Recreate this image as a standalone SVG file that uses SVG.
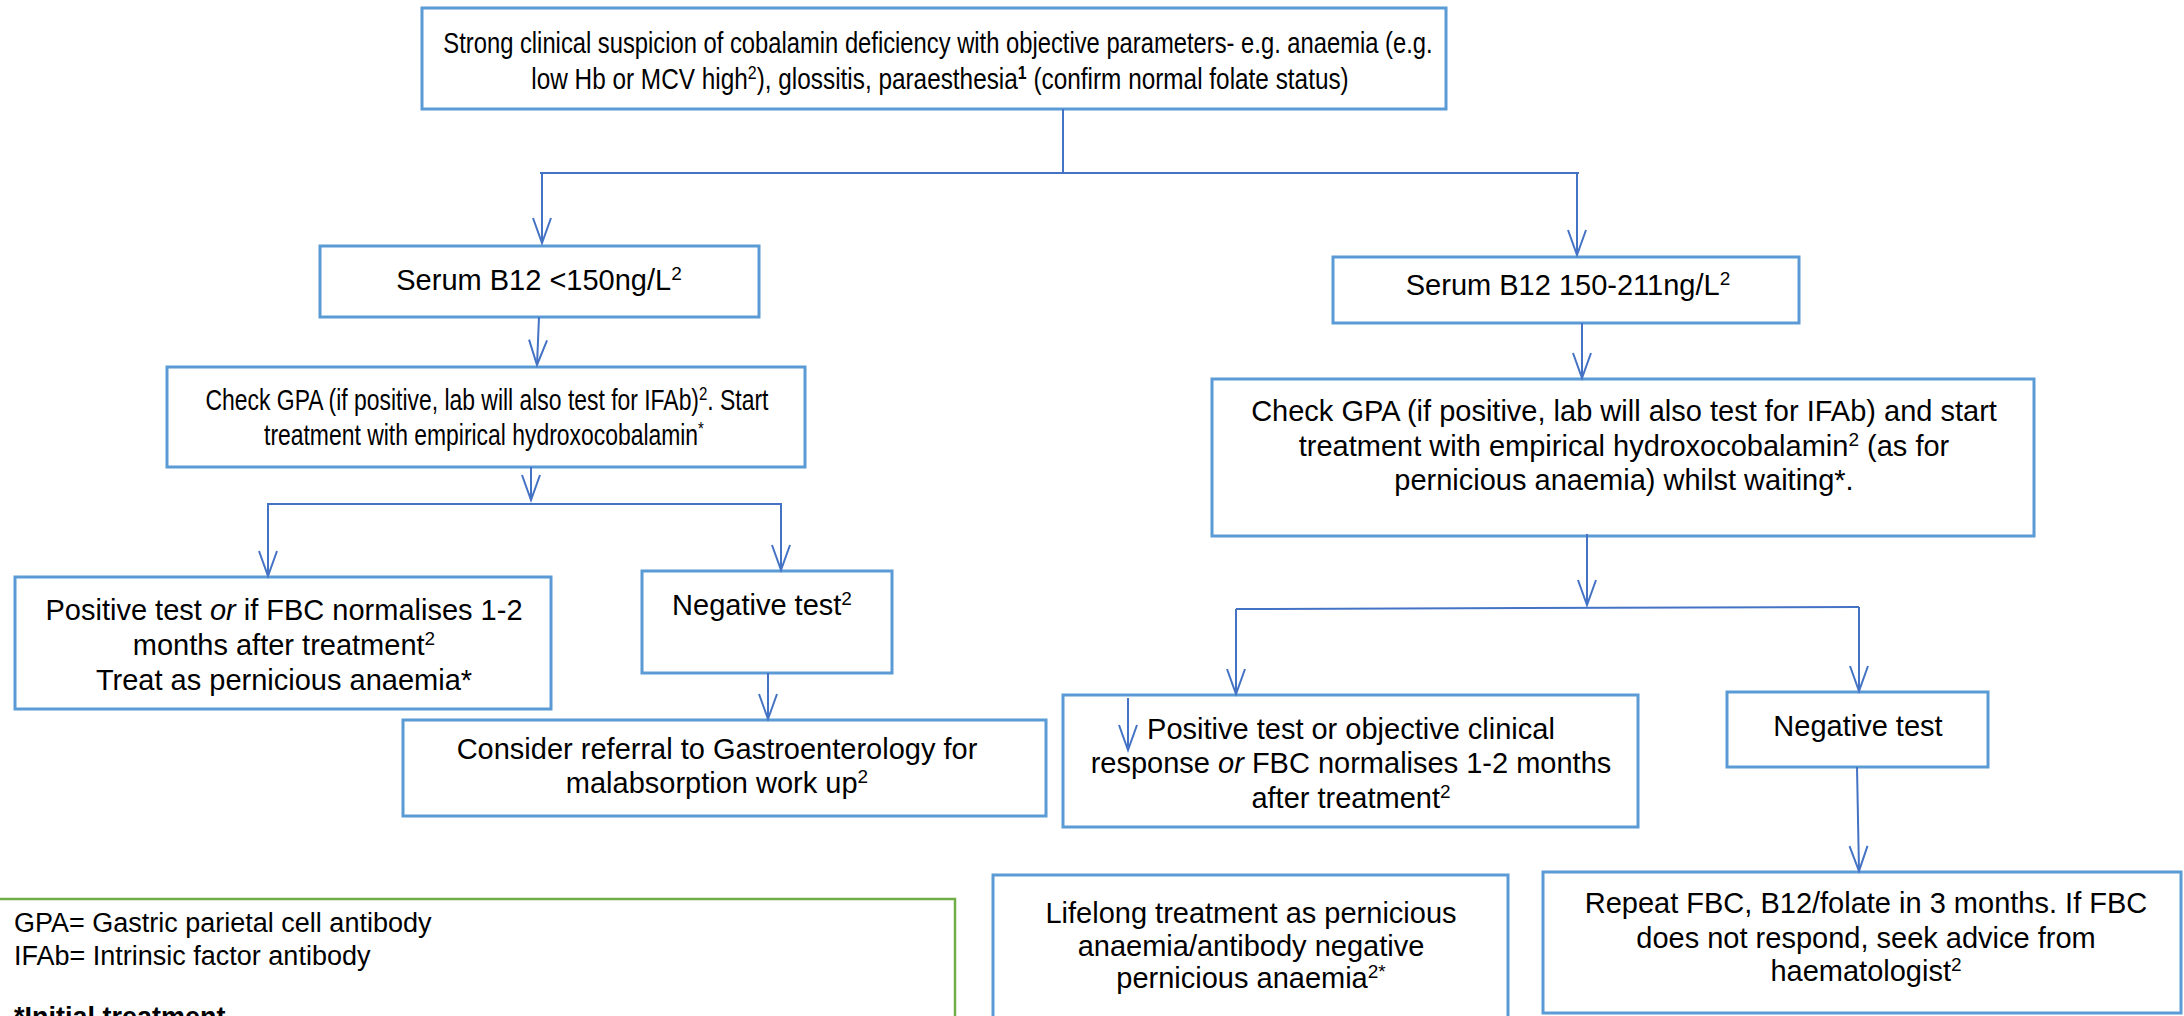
<svg xmlns="http://www.w3.org/2000/svg" width="2184" height="1016" viewBox="0 0 2184 1016">
<style>
.box{fill:#fff;stroke:#5B9BD5;stroke-width:3}
.leg{fill:#fff;stroke:#70AD47;stroke-width:2.5}
.t{font-family:"Liberation Sans",Arial,sans-serif;font-size:29px;fill:#000;text-anchor:middle}
.l{font-family:"Liberation Sans",Arial,sans-serif;font-size:27px;fill:#000}
.c{fill:none;stroke:#4472C4;stroke-width:2}
.a{fill:none;stroke:#4472C4;stroke-width:2;marker-end:url(#ah)}
</style>
<defs>
<marker id="ah" markerUnits="userSpaceOnUse" markerWidth="30" markerHeight="24" viewBox="-26 -12 30 24" refX="0" refY="0" orient="auto" overflow="visible">
<path d="M-25,-9 L0,0 L-25,9" fill="none" stroke="#4472C4" stroke-width="2"/>
</marker>
</defs>
<rect width="2184" height="1016" fill="#fff"/>
<g id="n_top">
<rect class="box" x="422" y="8" width="1024" height="101"/>
<text class="t" transform="translate(938,53) scale(0.82,1)">Strong clinical suspicion of cobalamin deficiency with objective parameters- e.g. anaemia (e.g.</text>
<text class="t" transform="translate(940,89) scale(0.84,1)">low Hb or MCV high<tspan dy="-10" font-size="19">2</tspan><tspan dy="10">), glossitis, paraesthesia</tspan><tspan dy="-10" font-size="19" font-weight="bold">1</tspan><tspan dy="10"> (confirm normal folate status)</tspan></text>
</g>
<g id="n_serum_low">
<rect class="box" x="320" y="246" width="439" height="71"/>
<text class="t" x="539" y="290">Serum B12 &lt;150ng/L<tspan dy="-10" font-size="19">2</tspan></text>
</g>
<g id="n_check_left">
<rect class="box" x="167" y="367" width="638" height="100"/>
<text class="t" transform="translate(487,410) scale(0.79,1)">Check GPA (if positive, lab will also test for IFAb)<tspan dy="-10" font-size="19">2</tspan><tspan dy="10">. Start</tspan></text>
<text class="t" transform="translate(484,445) scale(0.79,1)">treatment with empirical hydroxocobalamin<tspan dy="-10" font-size="19">*</tspan></text>
</g>
<g id="n_serum_mid">
<rect class="box" x="1333" y="257" width="466" height="66"/>
<text class="t" x="1568" y="295">Serum B12 150-211ng/L<tspan dy="-10" font-size="19">2</tspan></text>
</g>
<g id="n_check_right">
<rect class="box" x="1212" y="379" width="822" height="157"/>
<text class="t" x="1624" y="421">Check GPA (if positive, lab will also test for IFAb) and start</text>
<text class="t" x="1624" y="456">treatment with empirical hydroxocobalamin<tspan dy="-10" font-size="19">2</tspan><tspan dy="10"> (as for</tspan></text>
<text class="t" x="1624" y="490">pernicious anaemia) whilst waiting*.</text>
</g>
<g id="n_pos_left">
<rect class="box" x="15" y="577" width="536" height="132"/>
<text class="t" x="284" y="620">Positive test <tspan font-style="italic">or</tspan> if FBC normalises 1-2</text>
<text class="t" x="284" y="655">months after treatment<tspan dy="-10" font-size="19">2</tspan></text>
<text class="t" x="284" y="690">Treat as pernicious anaemia*</text>
</g>
<g id="n_neg_left">
<rect class="box" x="642" y="571" width="250" height="102"/>
<text class="t" x="762" y="615">Negative test<tspan dy="-10" font-size="19">2</tspan></text>
</g>
<g id="n_consider">
<rect class="box" x="403" y="720" width="643" height="96"/>
<text class="t" x="717" y="759">Consider referral to Gastroenterology for</text>
<text class="t" x="717" y="793">malabsorption work up<tspan dy="-10" font-size="19">2</tspan></text>
</g>
<g id="n_pos_right">
<rect class="box" x="1063" y="695" width="575" height="132"/>
<text class="t" x="1351" y="739">Positive test or objective clinical</text>
<text class="t" x="1351" y="773">response <tspan font-style="italic">or</tspan> FBC normalises 1-2 months</text>
<text class="t" x="1351" y="808">after treatment<tspan dy="-10" font-size="19">2</tspan></text>
</g>
<g id="n_neg_right">
<rect class="box" x="1727" y="692" width="261" height="75"/>
<text class="t" x="1858" y="736">Negative test</text>
</g>
<g id="n_lifelong">
<rect class="box" x="993" y="875" width="515" height="170"/>
<text class="t" x="1251" y="923">Lifelong treatment as pernicious</text>
<text class="t" x="1251" y="956">anaemia/antibody negative</text>
<text class="t" x="1251" y="988">pernicious anaemia<tspan dy="-10" font-size="19">2*</tspan></text>
</g>
<g id="n_repeat">
<rect class="box" x="1543" y="872" width="638" height="141"/>
<text class="t" x="1866" y="913">Repeat FBC, B12/folate in 3 months. If FBC</text>
<text class="t" x="1866" y="948">does not respond, seek advice from</text>
<text class="t" x="1866" y="981">haematologist<tspan dy="-10" font-size="19">2</tspan></text>
</g>
<g id="n_legend">
<rect class="leg" x="-10" y="899" width="965" height="200"/>
<text class="l" x="14" y="932">GPA= Gastric parietal cell antibody</text>
<text class="l" x="14" y="965">IFAb= Intrinsic factor antibody</text>
<text class="l" x="14" y="1026" font-weight="bold">*Initial treatment</text>
</g>
<g id="connectors">
<path class="c" d="M1063,109 V173"/>
<path class="c" d="M540,173 H1579"/>
<path class="a" d="M542,173 V243"/>
<path class="a" d="M1577,173 V255"/>
<path class="a" d="M539,317 L537,365"/>
<path class="a" d="M1582,323 V378"/>
<path class="a" d="M531,467 V500"/>
<path class="c" d="M267,504 H782"/>
<path class="a" d="M268,504 V576"/>
<path class="a" d="M781,504 V570"/>
<path class="a" d="M768,673 V719"/>
<path class="a" d="M1587,534 V605"/>
<path class="c" d="M1236,609 L1859,607"/>
<path class="a" d="M1236,609 V694"/>
<path class="a" d="M1859,607 V691"/>
<path class="a" d="M1128,698 V750"/>
<path class="a" d="M1857,767 L1859,871"/>
</g>
</svg>
